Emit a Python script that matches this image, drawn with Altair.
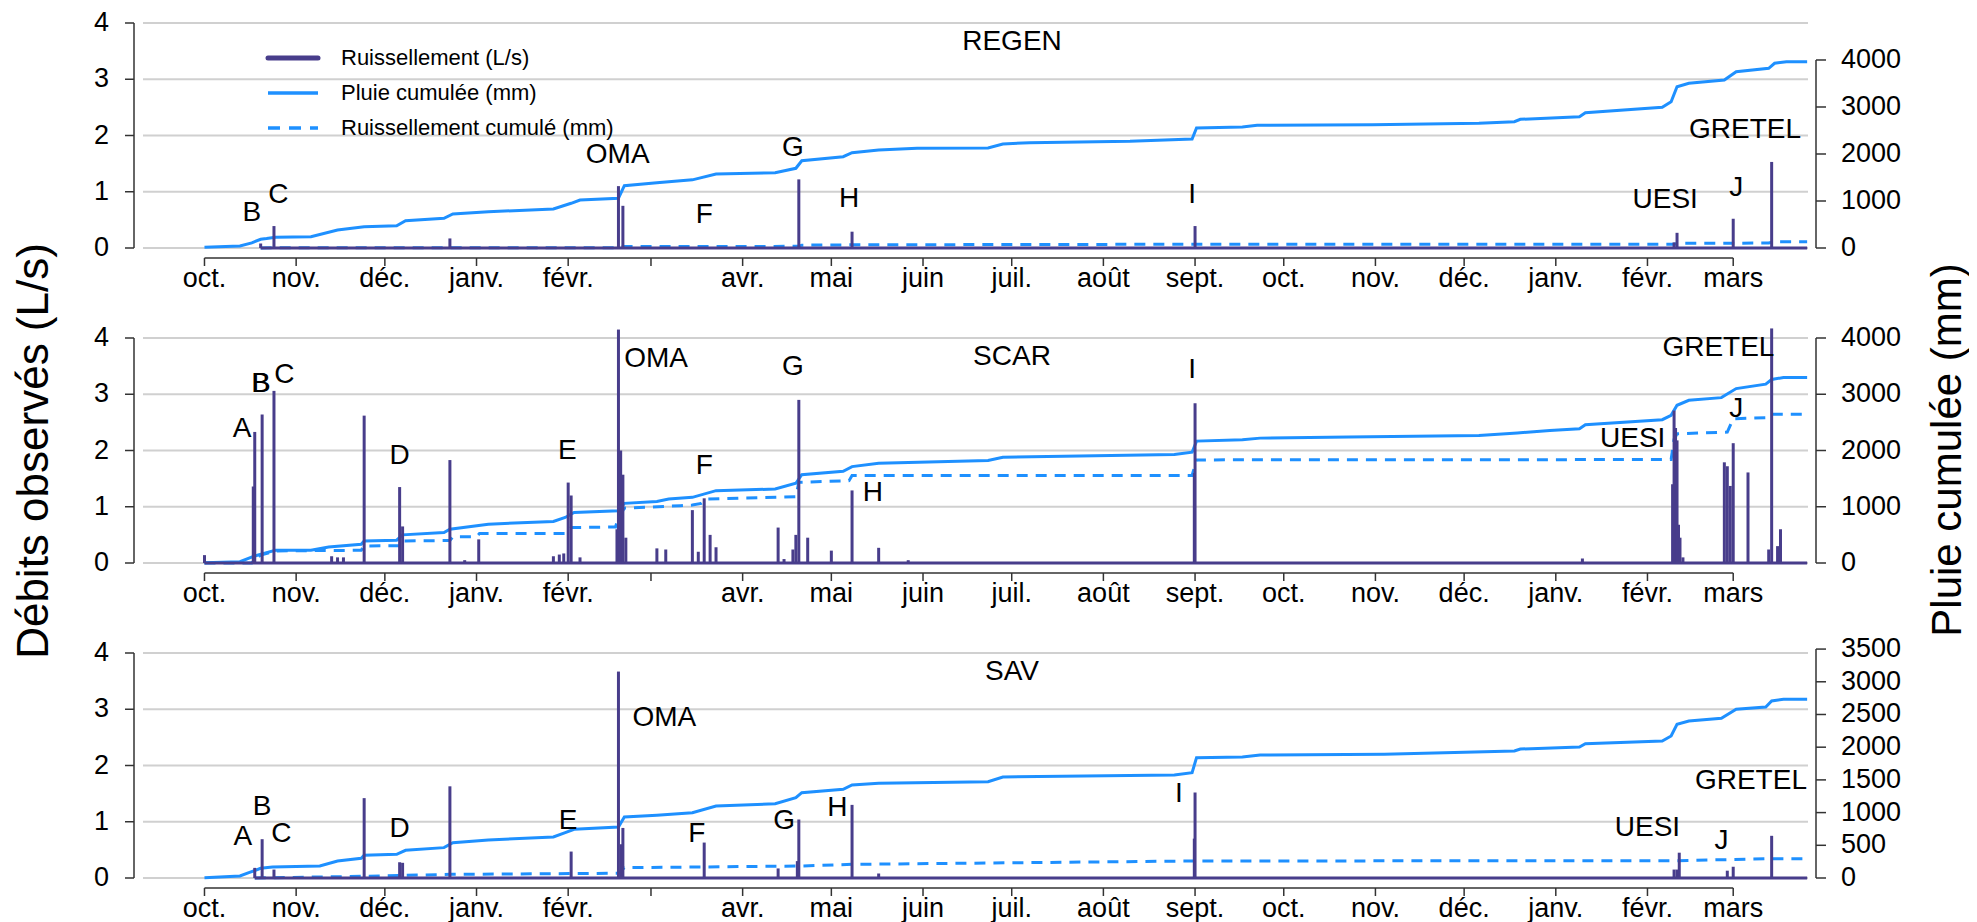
import altair as alt
import pandas as pd

# ---------------- styling ----------------
FONT = "Liberation Sans"
PURPLE = "#483D8B"
BLUE = "#1E90FF"
AXIS_C = "#333333"
GRID_C = "#d0d0d0"
W, H = 1665, 225

# ---------------- shared axes / text ----------------
X_START = "2018-09-10T05:00"
X_END = "2020-03-26T07:00"
MONTHS_FR = ["janv.", "févr.", "mars", "avr.", "mai", "juin", "juil.", "août",
             "sept.", "oct.", "nov.", "déc."]
XTICK_DATES = ["2018-10-01", "2018-11-01", "2018-12-01", "2019-01-01", "2019-02-01",
               "2019-03-01", "2019-04-01", "2019-05-01", "2019-06-01", "2019-07-01",
               "2019-08-01", "2019-09-01", "2019-10-01", "2019-11-01", "2019-12-01",
               "2020-01-01", "2020-02-01", "2020-03-01"]
XTICK_HIDDEN = ["2019-03-01"]
Q_TICKS = [0, 1, 2, 3, 4]
LEGEND_LABELS = ["Ruissellement (L/s)", "Pluie cumulée (mm)", "Ruissellement cumulé (mm)"]
Y_TITLE_LEFT = "Débits observés (L/s)"
Y_TITLE_RIGHT = "Pluie cumulée (mm)"

# ---------------- REGEN ----------------
REGEN_Q_DATES = ["2018-10-20", "2018-10-24T12:00", "2018-12-23", "2019-02-18", "2019-02-19T12:00",
                 "2019-04-20", "2019-05-08", "2019-09-01", "2020-02-10", "2020-02-11",
                 "2020-03-01", "2020-03-14"]
REGEN_Q = [0.08, 0.39, 0.17, 1.10, 0.75, 1.22, 0.29, 0.39, 0.10, 0.27, 0.52, 1.53]
REGEN_BASE = ["2018-10-20", "2020-03-26"]
REGEN_RAIN_DATES = ["2018-10-01", "2018-10-13", "2018-10-17", "2018-10-20", "2018-10-22", "2018-10-25",
                    "2018-11-06", "2018-11-15", "2018-11-24", "2018-12-05", "2018-12-08", "2018-12-21",
                    "2018-12-24", "2019-01-05", "2019-01-27", "2019-02-02", "2019-02-05", "2019-02-18",
                    "2019-02-20", "2019-03-03", "2019-03-15", "2019-03-23", "2019-04-12", "2019-04-19",
                    "2019-04-21", "2019-05-05", "2019-05-08", "2019-05-17", "2019-05-30", "2019-06-23",
                    "2019-06-28", "2019-07-07", "2019-08-10", "2019-08-31", "2019-09-01T12:00",
                    "2019-09-17", "2019-09-22", "2019-10-31", "2019-12-06", "2019-12-18", "2019-12-20",
                    "2020-01-09", "2020-01-11", "2020-02-06", "2020-02-09", "2020-02-11", "2020-02-15",
                    "2020-02-27", "2020-03-02", "2020-03-13", "2020-03-15", "2020-03-19", "2020-03-26"]
REGEN_RAIN = [15, 43, 110, 185, 200, 228, 241, 383, 453, 474, 581, 632, 723, 772, 830, 951, 1021,
              1060, 1326, 1390, 1450, 1574, 1602, 1696, 1857, 1943, 2028, 2085, 2121, 2130, 2213,
              2240, 2270, 2320, 2553, 2574, 2611, 2623, 2653, 2687, 2738, 2794, 2879, 2993, 3113,
              3432, 3504, 3574, 3751, 3823, 3930, 3964, 3964]
REGEN_CR_DATES = ["2018-10-20", "2018-10-25", "2019-02-18", "2019-02-20", "2019-04-20", "2019-04-21",
                  "2019-05-08", "2019-09-01", "2020-02-10", "2020-02-12", "2020-03-13", "2020-03-15",
                  "2020-03-26"]
REGEN_CR = [0, 5, 8, 30, 35, 60, 68, 80, 82, 100, 105, 135, 135]
REGEN_LAB = ["B", "C", "OMA", "F", "G", "H", "I", "UESI", "J", "GRETEL"]
REGEN_LAB_DATES = ["2018-10-17", "2018-10-26", "2019-02-17T18:00", "2019-03-19", "2019-04-18",
                   "2019-05-07", "2019-08-31", "2020-02-07", "2020-03-02", "2020-03-05"]
REGEN_LAB_Y = [0.62, 0.94, 1.65, 0.59, 1.78, 0.87, 0.94, 0.85, 1.07, 2.10]
REGEN_RAIN_MAX = 4787
REGEN_RAIN_TICKS = [0, 1000, 2000, 3000, 4000]

# ---------------- SCAR ----------------
SCAR_Q_DATES = ["2018-10-01", "2018-10-17T12:00", "2018-10-18", "2018-10-20T12:00", "2018-10-24T12:00",
                "2018-11-13", "2018-11-15", "2018-11-17", "2018-11-24", "2018-12-06", "2018-12-07",
                "2018-12-23", "2018-12-28", "2019-01-01T18:00", "2019-01-27", "2019-01-29",
                "2019-01-30T12:00", "2019-02-01", "2019-02-02", "2019-02-05", "2019-02-17T12:00",
                "2019-02-18", "2019-02-18T18:00", "2019-02-19T12:00", "2019-02-20T12:00", "2019-03-03",
                "2019-03-06", "2019-03-15", "2019-03-17", "2019-03-19", "2019-03-21", "2019-03-23",
                "2019-04-13", "2019-04-15", "2019-04-18", "2019-04-19", "2019-04-20", "2019-04-23",
                "2019-05-01", "2019-05-08", "2019-05-17", "2019-05-27", "2019-08-31T18:00", "2019-09-01",
                "2020-01-10", "2020-02-09T12:00", "2020-02-10", "2020-02-10T12:00", "2020-02-11",
                "2020-02-11T12:00", "2020-02-12", "2020-02-13", "2020-02-27", "2020-02-28", "2020-02-29",
                "2020-03-01", "2020-03-06", "2020-03-13", "2020-03-14", "2020-03-16", "2020-03-17"]
SCAR_Q = [0.14, 1.36, 2.33, 2.64, 3.06, 0.12, 0.10, 0.10, 2.62, 1.35, 0.65, 1.83, 0.05, 0.42, 0.12,
          0.15, 0.17, 1.43, 1.20, 0.10, 0.60, 4.15, 2.00, 1.57, 0.45, 0.26, 0.24, 0.94, 0.20, 1.15,
          0.50, 0.28, 0.63, 0.07, 0.24, 0.50, 2.90, 0.45, 0.22, 1.29, 0.27, 0.05, 1.60, 2.84, 0.08,
          1.40, 2.71, 2.40, 2.18, 0.68, 0.45, 0.10, 1.79, 1.72, 1.37, 2.13, 1.61, 0.24, 4.17, 0.30,
          0.60]
SCAR_BASE = ["2018-10-01", "2020-03-26"]
SCAR_RAIN_DATES = ["2018-10-01", "2018-10-13", "2018-10-18", "2018-10-22", "2018-10-25", "2018-11-06",
                   "2018-11-12", "2018-11-23", "2018-11-24", "2018-12-05", "2018-12-07", "2018-12-21",
                   "2018-12-23", "2019-01-05", "2019-01-27", "2019-01-31", "2019-02-03", "2019-02-18",
                   "2019-02-20", "2019-03-03", "2019-03-07", "2019-03-15", "2019-03-23", "2019-04-12",
                   "2019-04-19", "2019-04-21", "2019-05-05", "2019-05-08", "2019-05-17", "2019-06-23",
                   "2019-06-28", "2019-08-25", "2019-08-31", "2019-09-01T12:00", "2019-09-17",
                   "2019-09-23", "2019-10-23", "2019-12-06", "2019-12-19", "2019-12-30", "2020-01-09",
                   "2020-01-11", "2020-02-06", "2020-02-09", "2020-02-11", "2020-02-15", "2020-02-26",
                   "2020-03-02", "2020-03-12", "2020-03-14", "2020-03-18", "2020-03-26"]
SCAR_RAIN = [5, 23, 125, 184, 226, 226, 286, 333, 393, 405, 500, 542, 601, 690, 738, 809, 899, 929,
             1060, 1095, 1137, 1167, 1286, 1315, 1417, 1571, 1631, 1714, 1774, 1821, 1881, 1929, 1970,
             2167, 2190, 2220, 2238, 2268, 2310, 2357, 2387, 2458, 2548, 2625, 2804, 2893, 2940, 3101,
             3179, 3262, 3298, 3298]
SCAR_CR_DATES = ["2018-10-01", "2018-10-17", "2018-10-18", "2018-10-20", "2018-10-25", "2018-11-23",
                 "2018-11-24", "2018-12-06", "2018-12-07", "2018-12-23", "2018-12-24", "2019-01-01",
                 "2019-01-02", "2019-01-31", "2019-02-02", "2019-02-17", "2019-02-18", "2019-02-20",
                 "2019-03-11", "2019-03-15", "2019-03-18", "2019-03-20", "2019-04-19", "2019-04-20",
                 "2019-05-07", "2019-05-08", "2019-08-31", "2019-09-01T12:00", "2020-02-09", "2020-02-10",
                 "2020-02-11", "2020-02-28", "2020-03-01", "2020-03-13", "2020-03-14", "2020-03-26"]
SCAR_CR = [0, 0, 70, 140, 215, 226, 304, 306, 393, 400, 464, 468, 524, 526, 631, 640, 800, 976, 1018,
           1030, 1060, 1137, 1179, 1434, 1464, 1554, 1556, 1833, 1839, 2200, 2298, 2327, 2565, 2583,
           2643, 2643]
SCAR_LAB = ["A", "B", "B", "C", "D", "E", "OMA", "F", "G", "H", "I", "UESI", "J", "GRETEL"]
SCAR_LAB_DATES = ["2018-10-13T18:00", "2018-10-20", "2018-10-20T06:00", "2018-10-28", "2018-12-06",
                  "2019-01-31T18:00", "2019-03-02T18:00", "2019-03-19", "2019-04-18", "2019-05-15",
                  "2019-08-31", "2020-01-27", "2020-03-02", "2020-02-25"]
SCAR_LAB_Y = [2.39, 3.19, 3.19, 3.34, 1.91, 2.0, 3.62, 1.73, 3.49, 1.24, 3.43, 2.21, 2.74, 3.82]
SCAR_RAIN_MAX = 4000
SCAR_RAIN_TICKS = [0, 1000, 2000, 3000, 4000]

# ---------------- SAV ----------------
SAV_Q_DATES = ["2018-10-18", "2018-10-20T12:00", "2018-10-24T12:00", "2018-11-24", "2018-12-06",
               "2018-12-07", "2018-12-23", "2019-02-02", "2019-02-18", "2019-02-19", "2019-02-19T12:00",
               "2019-03-19", "2019-04-13", "2019-04-19T12:00", "2019-04-20", "2019-05-08", "2019-05-17",
               "2019-08-31T18:00", "2019-09-01", "2020-02-10", "2020-02-11", "2020-02-11T18:00",
               "2020-02-28", "2020-03-01", "2020-03-14"]
SAV_Q = [0.18, 0.69, 0.15, 1.42, 0.28, 0.27, 1.63, 0.47, 3.67, 0.60, 0.89, 0.63, 0.17, 0.30, 1.04,
         1.30, 0.08, 0.70, 1.52, 0.15, 0.15, 0.45, 0.13, 0.20, 0.75]
SAV_BASE = ["2018-10-18", "2020-03-26"]
SAV_RAIN_DATES = ["2018-10-01", "2018-10-13", "2018-10-16", "2018-10-20", "2018-10-24", "2018-11-09",
                  "2018-11-15", "2018-11-23", "2018-11-24", "2018-12-05", "2018-12-08", "2018-12-21",
                  "2018-12-24", "2019-01-05", "2019-01-27", "2019-01-31", "2019-02-03", "2019-02-18",
                  "2019-02-20", "2019-03-03", "2019-03-15", "2019-03-23", "2019-04-12", "2019-04-19",
                  "2019-04-21", "2019-05-05", "2019-05-08", "2019-05-17", "2019-06-23", "2019-06-28",
                  "2019-08-25", "2019-08-31", "2019-09-01T12:00", "2019-09-17", "2019-09-23",
                  "2019-11-04", "2019-12-18", "2019-12-20", "2020-01-09", "2020-01-11", "2020-02-06",
                  "2020-02-09", "2020-02-11", "2020-02-15", "2020-02-26", "2020-03-02", "2020-03-12",
                  "2020-03-14", "2020-03-18", "2020-03-26"]
SAV_RAIN = [5, 31, 81, 148, 168, 183, 260, 301, 347, 362, 423, 464, 540, 581, 627, 693, 744, 780, 933,
            960, 998, 1101, 1136, 1228, 1305, 1356, 1422, 1448, 1473, 1544, 1575, 1610, 1840, 1850,
            1881, 1891, 1942, 1972, 2003, 2054, 2095, 2171, 2350, 2400, 2442, 2579, 2615, 2706, 2732,
            2732]
SAV_CR_DATES = ["2018-10-18", "2018-11-24", "2018-12-23", "2019-02-18", "2019-02-20", "2019-04-20",
                "2019-05-08", "2019-09-01", "2020-02-11", "2020-03-14", "2020-03-26"]
SAV_CR = [0, 26, 56, 72, 158, 183, 209, 260, 265, 295, 295]
SAV_LAB = ["A", "B", "C", "D", "E", "OMA", "F", "G", "H", "I", "UESI", "J", "GRETEL"]
SAV_LAB_DATES = ["2018-10-14", "2018-10-20T12:00", "2018-10-27", "2018-12-06", "2019-02-01",
                 "2019-03-05T12:00", "2019-03-16T12:00", "2019-04-15", "2019-05-03", "2019-08-26T12:00",
                 "2020-02-01", "2020-02-26", "2020-03-07"]
SAV_LAB_Y = [0.73, 1.26, 0.78, 0.87, 1.01, 2.85, 0.78, 1.01, 1.25, 1.49, 0.89, 0.66, 1.72]
SAV_RAIN_MAX = 3440
SAV_RAIN_TICKS = [0, 500, 1000, 1500, 2000, 2500, 3000, 3500]


# ---------------- helpers ----------------
def iso(s):
    return s + "Z" if "T" in s else s + "T00:00Z"


def dt(s):
    p = pd.Timestamp(s)
    return alt.DateTime(year=p.year, month=p.month, date=p.day, hours=p.hour,
                        minutes=p.minute, utc=True)


XS = alt.Scale(type="utc", domain=[dt(X_START), dt(X_END)])
YS = alt.Scale(domain=[0, 4], nice=False)
TICK_FS = 27

XTICK_LABELS = ["" if d in XTICK_HIDDEN else MONTHS_FR[pd.Timestamp(d).month - 1]
                for d in XTICK_DATES]


def X(field):
    return alt.X(field, type="temporal", scale=XS, axis=None)


def vtext(txt, x, y, size, angle=None, align="center"):
    kw = dict(font=FONT, fontSize=size, color="black", align=align, baseline="middle")
    if angle is not None:
        kw["angle"] = angle
    return alt.Chart(pd.DataFrame({"t": [txt]})).mark_text(**kw).encode(
        x=alt.value(x), y=alt.value(y), text="t:N")


def legend_layers():
    ys = [35, 70, 105]
    styles = [dict(color=PURPLE, strokeWidth=5, strokeCap="round"),
              dict(color=BLUE, strokeWidth=3.5),
              dict(color=BLUE, strokeWidth=3.5, strokeDash=[12, 9])]
    out = []
    for lab, y, st in zip(LEGEND_LABELS, ys, styles):
        out.append(alt.Chart(pd.DataFrame({"k": [0]})).mark_rule(**st).encode(
            x=alt.value(125), x2=alt.value(175), y=alt.value(y)))
        out.append(vtext(lab, 198, y, 22, align="left"))
    return out


def panel(name, q_dates, q_vals, base, rain_dates, rain_vals, cr_dates, cr_vals,
          lab_txt, lab_dates, lab_vals, rain_max, rain_ticks, extra=()):
    rs = alt.Scale(domain=[0, rain_max], nice=False)

    qdf = pd.DataFrame({"date": [iso(d) for d in q_dates], "q": q_vals, "zero": 0})
    rdf = pd.DataFrame({"date": [iso(d) for d in rain_dates], "mm": rain_vals})
    cdf = pd.DataFrame({"date": [iso(d) for d in cr_dates], "mm": cr_vals})
    ldf = pd.DataFrame({"date": [iso(d) for d in lab_dates], "v": lab_vals, "t": lab_txt})
    bdf = pd.DataFrame({"start": [iso(base[0])], "end": [iso(base[1])], "zero": [0]})
    adf = pd.DataFrame({"a": [iso(XTICK_DATES[0])], "b": [iso(XTICK_DATES[-1])]})
    qt = pd.DataFrame({"v": Q_TICKS, "t": [str(v) for v in Q_TICKS]})
    qtick = pd.DataFrame({"v": Q_TICKS, "w": Q_TICKS})
    qrange = pd.DataFrame({"lo": [min(Q_TICKS)], "hi": [max(Q_TICKS)]})
    rt = pd.DataFrame({"v": rain_ticks, "t": [str(v) for v in rain_ticks]})
    rtick = pd.DataFrame({"v": rain_ticks, "w": rain_ticks})
    xt = pd.DataFrame({"d": [iso(d) for d in XTICK_DATES], "t": XTICK_LABELS})
    xtick = pd.DataFrame({"d": [iso(d) for d in XTICK_DATES], "e": [iso(d) for d in XTICK_DATES]})

    def YQ(f):
        return alt.Y(f, type="quantitative", scale=YS, axis=None)

    def YR(f):
        return alt.Y(f, type="quantitative", scale=rs, axis=None)

    # horizontal grid: rule with only a y field spans the whole plot width
    grid = alt.Chart(qt).mark_rule(color=GRID_C, strokeWidth=2).encode(y=YQ("v"))
    left_dom = alt.Chart(qrange).mark_rule(color=AXIS_C, strokeWidth=1.5).encode(
        x=alt.value(-9), y=YQ("lo"), y2="hi")
    # tick marks as line segments (x, x2, y, y2 all given)
    left_ticks = alt.Chart(qtick).mark_rule(color=AXIS_C, strokeWidth=1.5).encode(
        y=YQ("v"), y2="w", x=alt.value(-18), x2=alt.value(-9))
    left_labels = alt.Chart(qt).mark_text(font=FONT, fontSize=TICK_FS, color="black",
                                          align="right", baseline="middle").encode(
        y=YQ("v"), x=alt.value(-34), text="t:N")

    top_px = H - H * max(rain_ticks) / rain_max
    right_dom = alt.Chart(pd.DataFrame({"k": [0]})).mark_rule(color=AXIS_C, strokeWidth=1.5).encode(
        x=alt.value(W + 8), y=alt.value(top_px), y2=alt.value(H))
    right_ticks = alt.Chart(rtick).mark_rule(color=AXIS_C, strokeWidth=1.5).encode(
        y=YR("v"), y2="w", x=alt.value(W + 8), x2=alt.value(W + 18))
    right_labels = alt.Chart(rt).mark_text(font=FONT, fontSize=TICK_FS, color="black",
                                           align="left", baseline="middle").encode(
        y=YR("v"), x=alt.value(W + 33), text="t:N")

    xline = alt.Chart(adf).mark_rule(color=AXIS_C, strokeWidth=1.5).encode(
        x=X("a"), x2="b", y=alt.value(H + 10))
    x_ticks = alt.Chart(xtick).mark_rule(color=AXIS_C, strokeWidth=1.5).encode(
        x=X("d"), x2="e", y=alt.value(H + 10), y2=alt.value(H + 18))
    x_labels = alt.Chart(xt).mark_text(font=FONT, fontSize=TICK_FS, color="black",
                                       align="center", baseline="middle").encode(
        x=X("d"), y=alt.value(H + 31), text="t:N")

    rain = alt.Chart(rdf).mark_line(color=BLUE, strokeWidth=3).encode(x=X("date"), y=YR("mm"))
    cum = alt.Chart(cdf).mark_line(color=BLUE, strokeWidth=3, strokeDash=[11, 8]).encode(
        x=X("date"), y=YR("mm"))
    baseline = alt.Chart(bdf).mark_rule(color=PURPLE, strokeWidth=3).encode(
        x=X("start"), x2="end", y=YQ("zero"))
    spikes = alt.Chart(qdf).mark_rule(color=PURPLE, strokeWidth=3).encode(
        x=X("date"), y=YQ("q"), y2=alt.Y2("zero"))
    labels = alt.Chart(ldf).mark_text(font=FONT, fontSize=28, color="black",
                                      align="center", baseline="middle").encode(
        x=X("date"), y=YQ("v"), text="t:N")
    title = vtext(name, 869, 19, 28)

    return alt.layer(grid, rain, cum, baseline, spikes, labels,
                     left_dom, left_ticks, left_labels, right_dom, right_ticks, right_labels,
                     xline, x_ticks, x_labels, title, *extra
                     ).resolve_scale(y="independent").properties(width=W, height=H)


p1 = panel("REGEN", REGEN_Q_DATES, REGEN_Q, REGEN_BASE, REGEN_RAIN_DATES, REGEN_RAIN,
           REGEN_CR_DATES, REGEN_CR, REGEN_LAB, REGEN_LAB_DATES, REGEN_LAB_Y,
           REGEN_RAIN_MAX, REGEN_RAIN_TICKS, extra=legend_layers())
p2 = panel("SCAR", SCAR_Q_DATES, SCAR_Q, SCAR_BASE, SCAR_RAIN_DATES, SCAR_RAIN,
           SCAR_CR_DATES, SCAR_CR, SCAR_LAB, SCAR_LAB_DATES, SCAR_LAB_Y,
           SCAR_RAIN_MAX, SCAR_RAIN_TICKS,
           extra=[vtext(Y_TITLE_LEFT, -108, 113, 44, angle=270),
                  vtext(Y_TITLE_RIGHT, 1805, 112, 42, angle=270)])
p3 = panel("SAV", SAV_Q_DATES, SAV_Q, SAV_BASE, SAV_RAIN_DATES, SAV_RAIN,
           SAV_CR_DATES, SAV_CR, SAV_LAB, SAV_LAB_DATES, SAV_LAB_Y,
           SAV_RAIN_MAX, SAV_RAIN_TICKS)

chart = alt.vconcat(p1, p2, p3, spacing=90, bounds="flush").properties(
    padding={"left": 5, "top": 1, "right": 0, "bottom": 0}
).configure(font=FONT).configure_view(stroke=None)

chart.save("out.html", embed_options={"renderer": "svg", "actions": False})
